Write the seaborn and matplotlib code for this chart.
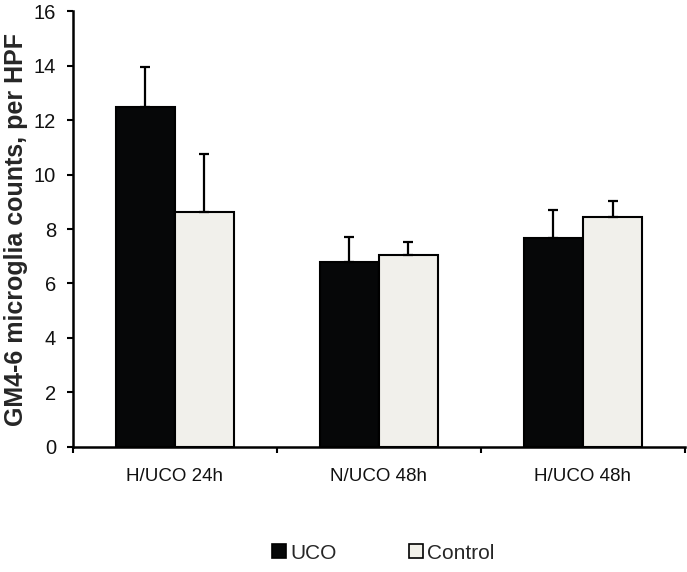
import matplotlib
matplotlib.use("Agg")
import matplotlib.pyplot as plt
import seaborn as sns
import pandas as pd
import numpy as np
from matplotlib.patches import Patch

groups = ['H/UCO 24h', 'N/UCO 48h', 'H/UCO 48h']
uco_mean = [12.5, 6.78, 7.69]
uco_err = [1.44, 0.92, 1.00]
ctrl_mean = [8.62, 7.06, 8.45]
ctrl_err = [2.14, 0.48, 0.57]
series = ['UCO', 'Control']
colors = {'UCO': '#060708', 'Control': '#f2f1ea'}


def make_plot():
    sns.set_theme(style='white')
    plt.rcParams['font.family'] = ['Liberation Sans', 'DejaVu Sans']

    data = pd.DataFrame({
        'group': groups * 2,
        'series': ['UCO'] * 3 + ['Control'] * 3,
        'value': uco_mean + ctrl_mean,
    })
    errs = {'UCO': uco_err, 'Control': ctrl_err}

    fig = plt.figure(figsize=(6.87, 5.72), dpi=100)
    ax = fig.add_axes([0.106, 0.219, 0.891, 0.761])

    sns.barplot(data=data, x='group', y='value', hue='series',
                order=groups, hue_order=series, palette=colors,
                width=0.58, edgecolor='black', linewidth=1.5,
                errorbar=None, legend=False, ax=ax)

    for name, cont in zip(series, ax.containers):
        xs = [p.get_x() + p.get_width() / 2 for p in cont]
        ys = [p.get_height() for p in cont]
        e = errs[name]
        ax.errorbar(xs, ys, yerr=[np.zeros(len(e)), e], fmt='none',
                    ecolor='black', elinewidth=1.6, capsize=3.5,
                    capthick=1.6, zorder=1)

    ax.set_ylim(0, 16)
    ax.set_yticks(np.arange(0, 17, 2))
    ax.set_xlim(-0.5, 2.5)
    ax.set_xticks([-0.5, 0.5, 1.5, 2.5])
    ax.set_xticklabels([])
    ax.set_xticks(range(len(groups)), minor=True)
    ax.set_xticklabels(groups, minor=True)
    ax.tick_params(axis='x', which='major', direction='out', length=4,
                   width=1.5, color='black', bottom=True)
    ax.tick_params(axis='x', which='minor', length=0, labelsize=13.5,
                   pad=15, labelcolor='#111111')
    ax.tick_params(axis='y', direction='out', length=4, width=1.5,
                   color='black', left=True, labelsize=14.5, pad=8,
                   labelcolor='#111111')

    ax.set_xlabel('')
    ax.set_ylabel('GM4-6 microglia counts, per HPF', fontsize=18,
                  fontweight='bold', labelpad=4)

    sns.despine(ax=ax)
    for s in ['left', 'bottom']:
        ax.spines[s].set_linewidth(1.8)
        ax.spines[s].set_color('black')

    handles = [Patch(facecolor=colors[n], edgecolor='black', linewidth=1.2)
               for n in series]
    fig.legend(handles, series, loc='center', bbox_to_anchor=(0.558, 0.033),
               ncol=2, frameon=False, fontsize=15, handlelength=0.65,
               handleheight=0.65, handletextpad=0.2, columnspacing=3.5)
    return fig


def save_plot_as(filename):
    fig = make_plot()
    fig.savefig(filename, dpi=100)
    plt.close()


if __name__ == '__main__':
    save_plot_as('out.png')
